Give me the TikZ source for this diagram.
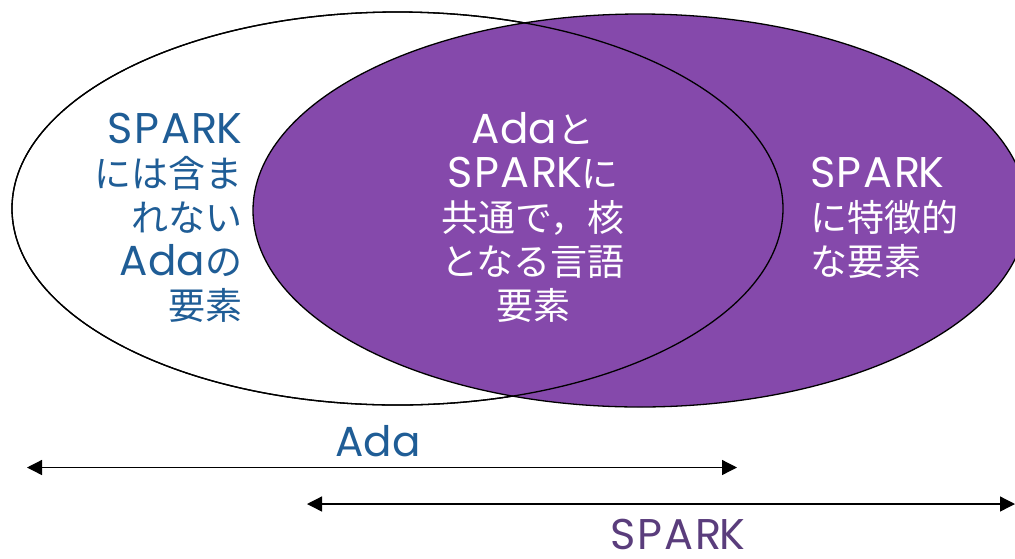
\documentclass[tikz,border=0pt]{standalone}
\usepackage{fontspec}
\newfontfamily\jpf{Noto Sans CJK JP}
\newfontfamily\latf{Poppins}
\usetikzlibrary{arrows.meta}
\definecolor{vpurple}{HTML}{8549AB}
\definecolor{vblue}{HTML}{1F5D96}
\definecolor{dpurple}{HTML}{5A3D7C}
\newcommand\la[1]{{\fontsize{42}{44}\selectfont\latf #1}}
\newcommand\spk{{\fontsize{43}{44}\selectfont\latf\addfontfeature{LetterSpace=4}SPAR\kern-1.7pt K}}
\tikzset{
  outline/.style={draw=black,line width=1.3pt},
  txt/.style={inner sep=0pt,outer sep=0pt,font=\fontsize{37}{44}\selectfont\jpf},
  ltxt/.style={txt,text=vblue,anchor=base east},
  mtxt/.style={txt,text=white,anchor=base},
  rtxt/.style={txt,text=white,anchor=base west},
  arr/.style={line width=1.3pt,{Triangle[length=15pt,width=15pt]}-{Triangle[length=15pt,width=15pt]}},
}
\begin{document}
\begin{tikzpicture}[x=1pt,y=-1pt]
\useasboundingbox (0,0) rectangle (1015,558);
\begin{scope}
\clip (0,0) rectangle (1015,558);
\fill[white] (397.5,208.5) ellipse [x radius=385.5, y radius=196.5];
\draw[outline] (397.5,208.5) ellipse [x radius=385.5, y radius=196.5];
\draw[outline,fill=vpurple] (640,210.5) ellipse [x radius=387, y radius=196.5];
\draw[outline] (397.5,208.5) ellipse [x radius=385.5, y radius=196.5];
\end{scope}
% left text
\node[ltxt] (l1) at (242,143) {\spk};
\node[ltxt] (l2) at (242,187) {には含ま};
\node[ltxt] (l3) at (242,231) {れない};
\node[ltxt] (l4) at (242,275) {\la{Ada}の};
\node[ltxt] (l5) at (242,319) {要素};
% middle text
\node[mtxt] (m1) at (533,143) {\la{Ada}と};
\node[mtxt] (m2) at (533,187) {\spk に};
\node[mtxt] (m3) at (533,231) {共通で，核};
\node[mtxt] (m4) at (533,275) {となる言語};
\node[mtxt] (m5) at (533,319) {要素};
% right text
\node[rtxt] (r1) at (810,187) {\spk};
\node[rtxt] (r2) at (810,231) {に特徴的};
\node[rtxt] (r3) at (810,275) {な要素};
% arrows
\coordinate (adaL) at (27,467.5);
\coordinate (adaR) at (737,467.5);
\coordinate (spL) at (307,504);
\coordinate (spR) at (1015,504);
\draw[arr] (adaL) -- (adaR);
\draw[arr] (spL) -- (spR);
\node[txt,anchor=base,text=vblue] (ada) at (378,456) {\la{Ada}};
\node[txt,anchor=base,text=dpurple] (spark) at (678,549) {\spk};
\end{tikzpicture}
\end{document}
